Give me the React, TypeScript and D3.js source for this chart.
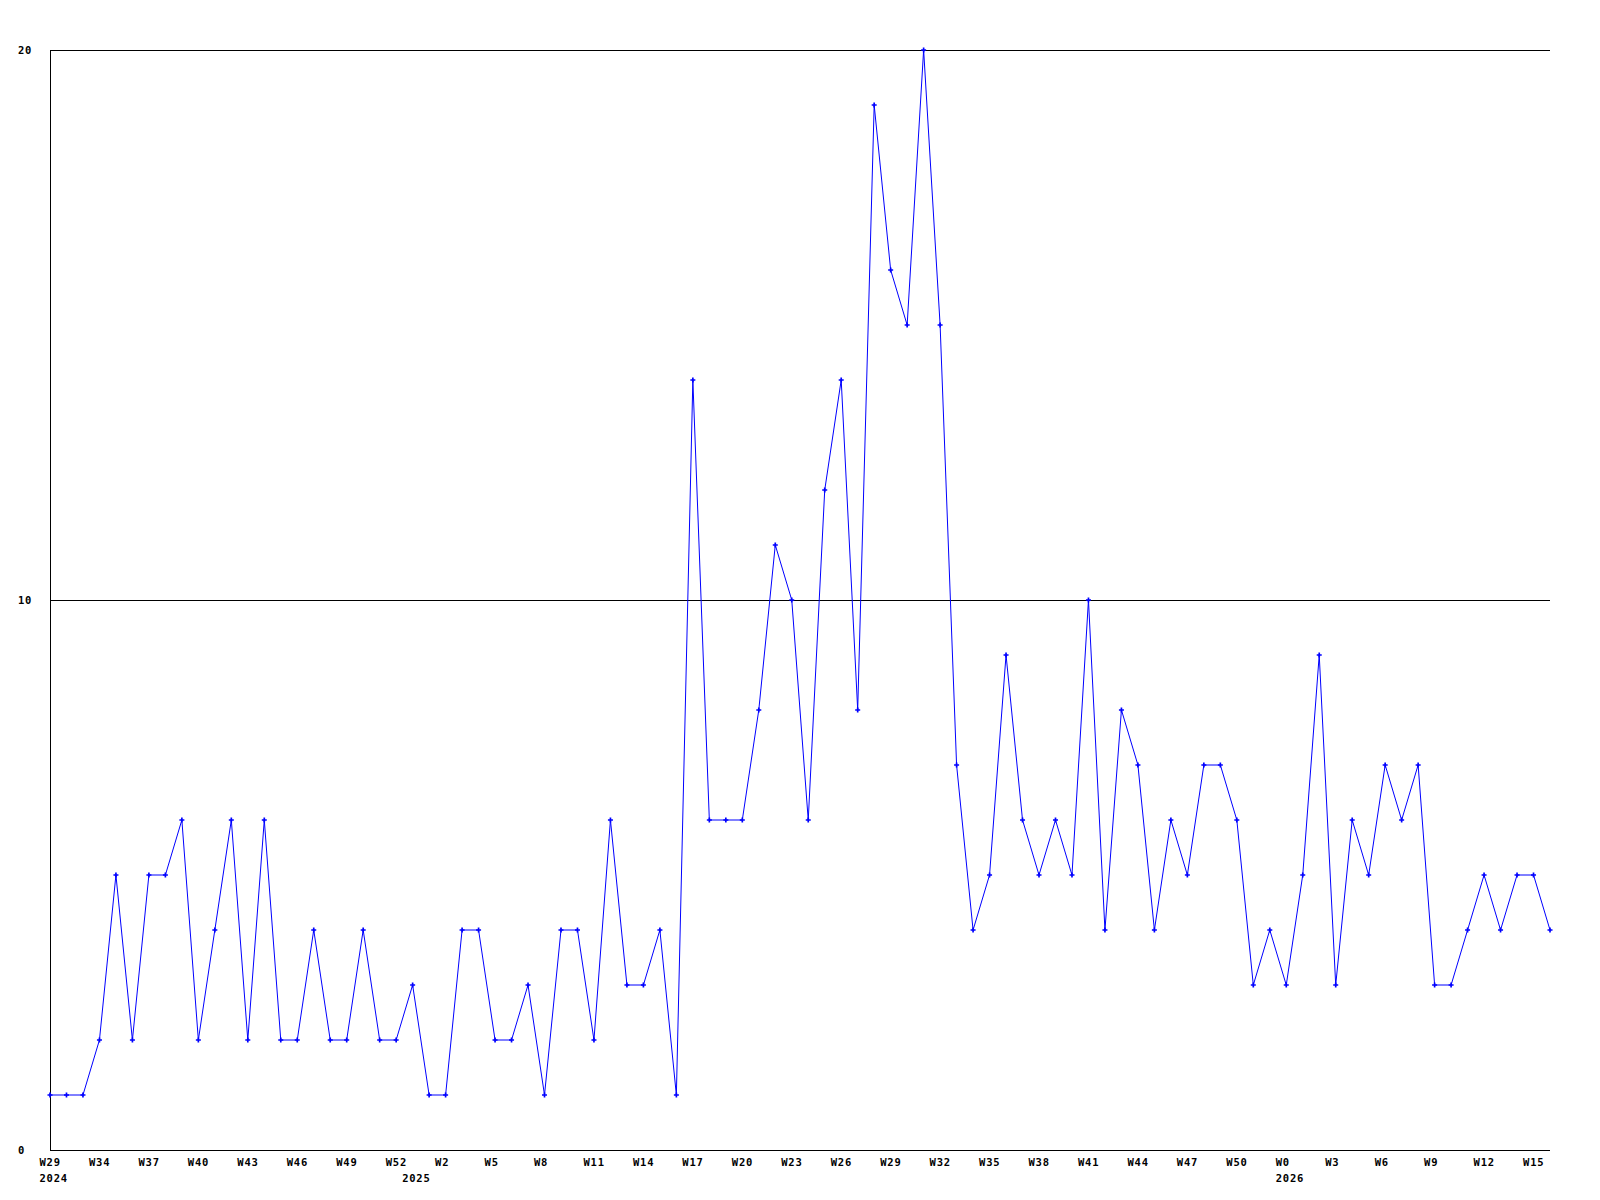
import * as d3 from "d3";

// weekly counts, W29 2024 .. W16 2026
const weeks2024 = [29, 32, 33, 34, 35, 36, 37, 38, 39, 40, 41, 42, 43, 44, 45, 46, 47, 48, 49, 50, 51, 52];
const weeks2025 = [
  0, 1, 2, 3, 4, 5, 6, 7, 8, 9, 10, 11, 12, 13, 14, 15, 16, 17, 18, 19, 20, 21, 22, 23, 24, 25, 26,
  27, 28, 29, 30, 31, 32, 33, 34, 35, 36, 37, 38, 39, 40, 41, 42, 43, 44, 45, 46, 47, 48, 49, 50, 51, 52,
];
const weeks2026 = [0, 1, 2, 3, 4, 5, 6, 7, 8, 9, 10, 11, 12, 13, 14, 15, 16];

const values = [
  1, 1, 1, 2, 5, 2, 5, 5, 6, 2, 4, 6, 2, 6, 2, 2, 4, 2, 2, 4, 2, 2,
  3, 1, 1, 4, 4, 2, 2, 3, 1, 4, 4, 2, 6, 3, 3, 4, 1, 14, 6, 6, 6, 8, 11, 10, 6, 12, 14, 8,
  19, 16, 15, 20, 15, 7, 4, 5, 9, 6, 5, 6, 5, 10, 4, 8, 7, 4, 6, 5, 7, 7, 6, 3, 4,
  3, 5, 9, 3, 6, 5, 7, 6, 7, 3, 3, 4, 5, 4, 5, 5, 4,
];

const yTicks = [0, 10, 20];

const categories = [
  ...weeks2024.map((w) => ({ year: 2024, week: w })),
  ...weeks2025.map((w) => ({ year: 2025, week: w })),
  ...weeks2026.map((w) => ({ year: 2026, week: w })),
];
const keys = categories.map((c) => `${c.year}-W${c.week}`);
const points = keys.map((k, i) => ({ key: k, value: values[i] }));

const left = 50;
const right = 1550;
const top = 50;
const bottom = 1150;

const font = {
  fontFamily: "'DejaVu Sans Mono', monospace",
  fontWeight: "bold" as const,
  fontSize: 10.5,
  letterSpacing: 0.8,
};

export default function App() {
  const x = d3.scalePoint<string>().domain(keys).range([left, right]).padding(0);
  const y = d3.scaleLinear().domain([0, 20]).range([bottom, top]);

  const line = d3
    .line<{ key: string; value: number }>()
    .x((d) => x(d.key)!)
    .y((d) => y(d.value));

  const marker = d3.symbol().type(d3.symbolCross).size(14)()!;

  return (
    <svg
      width={1600}
      height={1200}
      style={{ position: "absolute", left: 0, top: 0, background: "#fff" }}
    >
      {yTicks.map((t) => (
        <g key={t}>
          {t > 0 && (
            <line x1={left} x2={right} y1={y(t) + 0.5} y2={y(t) + 0.5} stroke="#000" />
          )}
          <text x={18} y={y(t) + 4} {...font} fill="#000">
            {t}
          </text>
        </g>
      ))}
      <line x1={left + 0.5} x2={left + 0.5} y1={top} y2={bottom + 1} stroke="#000" />
      <line x1={left} x2={right} y1={bottom + 0.5} y2={bottom + 0.5} stroke="#000" />

      {categories.map((c, i) =>
        i % 3 === 0 ? (
          <text key={"w" + i} x={x(keys[i])! - 10.5} y={1166} {...font} fill="#000">
            {"W" + c.week}
          </text>
        ) : null
      )}
      {categories.map((c, i) =>
        i === 0 || c.week === 0 ? (
          <text key={"y" + i} x={x(keys[i])! - 10.5} y={1182} {...font} fill="#000">
            {c.year}
          </text>
        ) : null
      )}

      <path d={line(points)!} fill="none" stroke="#0000ff" strokeWidth={1} />
      {points.map((p) => (
        <path
          key={p.key}
          d={marker}
          transform={`translate(${x(p.key)},${y(p.value)})`}
          fill="#0000ff"
        />
      ))}
    </svg>
  );
}
